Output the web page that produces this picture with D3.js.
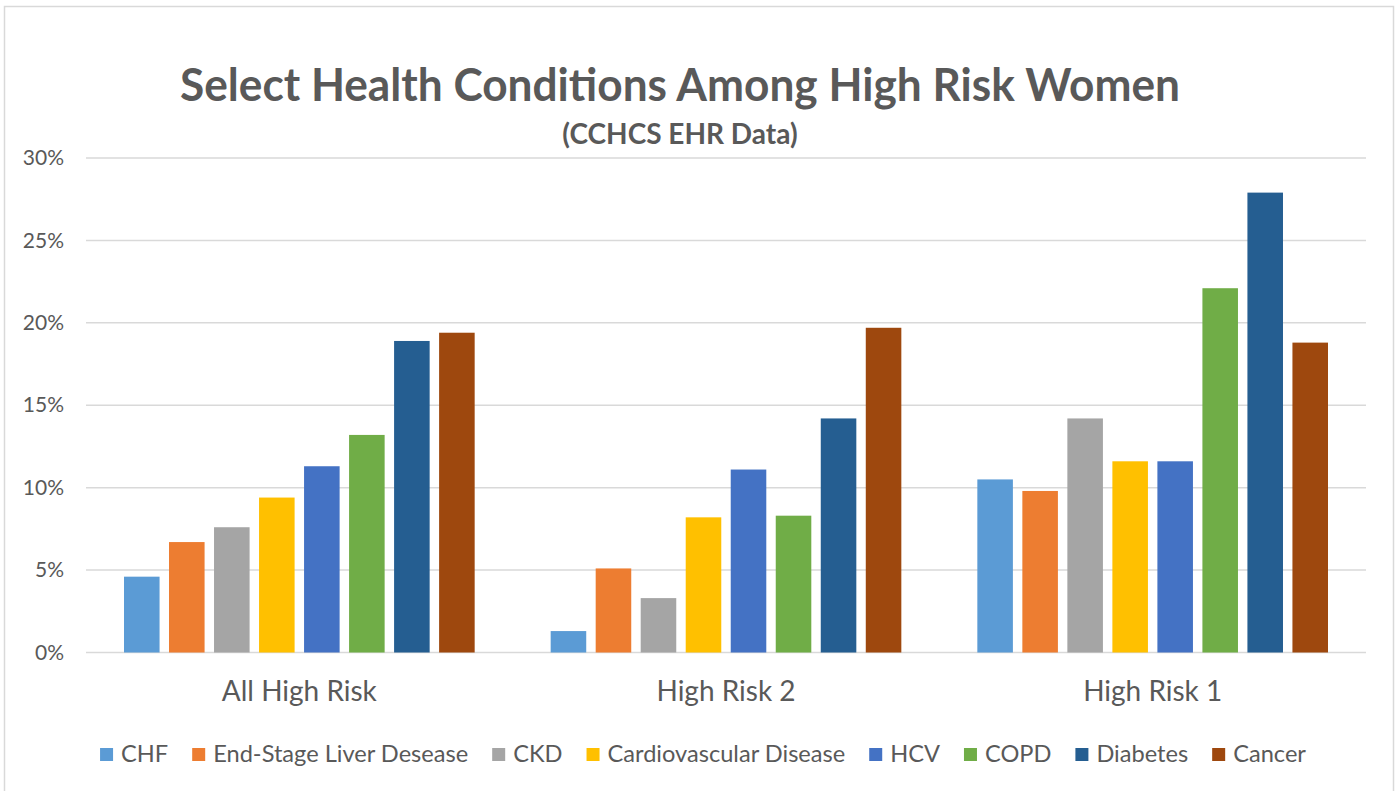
<!DOCTYPE html>
<html>
<head>
<meta charset="utf-8">
<script src="https://cdn.jsdelivr.net/npm/d3@7/dist/d3.min.js"></script>
<style>
  html, body { margin: 0; padding: 0; background: #fff; }
  svg { display: block; font-family: Lato, "Open Sans", sans-serif; }
</style>
</head>
<body>
<svg id="chart" width="1395" height="791"></svg>
<script>
const categories = ["All High Risk", "High Risk 2", "High Risk 1"];
const seriesNames = ["CHF", "End-Stage Liver Desease", "CKD", "Cardiovascular Disease", "HCV", "COPD", "Diabetes", "Cancer"];
const seriesColors = ["#5B9BD5", "#ED7D31", "#A5A5A5", "#FFC000", "#4472C4", "#70AD47", "#255E91", "#9E480E"];
// values in percent, one array per series, ordered by categories
const CHF = [4.6, 1.3, 10.5];
const ESLD = [6.7, 5.1, 9.8];
const CKD = [7.6, 3.3, 14.2];
const CVD = [9.4, 8.2, 11.6];
const HCV = [11.3, 11.1, 11.6];
const COPD = [13.2, 8.3, 22.1];
const Diabetes = [18.9, 14.2, 27.9];
const Cancer = [19.4, 19.7, 18.8];
const seriesValues = [CHF, ESLD, CKD, CVD, HCV, COPD, Diabetes, Cancer];
const yTicks = [0, 5, 10, 15, 20, 25, 30];

const svg = d3.select("#chart");
const textColor = "#595959";
const gridColor = "#D9D9D9";

// outer border
svg.append("rect").attr("x", 4.5).attr("y", 6.5).attr("width", 1389).attr("height", 800)
  .attr("fill", "none").attr("stroke", gridColor).attr("stroke-width", 1.5);

const plot = { left: 86, right: 1366, top: 158, bottom: 652.5 };

const y = d3.scaleLinear().domain([0, 30]).range([plot.bottom, plot.top]);
const x0 = d3.scaleBand().domain(categories).range([plot.left, plot.right]).padding(0);
const groupPad = 38;
const x1 = d3.scaleBand().domain(seriesNames).range([groupPad, x0.bandwidth() - groupPad]).paddingInner(0.21).paddingOuter(0);

// gridlines
svg.append("g").selectAll("line").data(yTicks).join("line")
  .attr("x1", plot.left).attr("x2", plot.right)
  .attr("y1", d => y(d)).attr("y2", d => y(d))
  .attr("stroke", gridColor).attr("stroke-width", 1.5);

// y axis labels
const yAxis = d3.axisLeft(y).tickValues(yTicks).tickFormat(d => d + "%").tickSize(0).tickPadding(0);
const yg = svg.append("g").attr("transform", `translate(${plot.left - 22},0)`).call(yAxis);
yg.select(".domain").remove();
yg.selectAll("text").attr("fill", textColor).style("font-size", "21px").style("font-family", "Lato, sans-serif");

// bars
const groups = svg.append("g").selectAll("g").data(categories).join("g")
  .attr("transform", d => `translate(${x0(d)},0)`);
groups.selectAll("rect")
  .data((cat, ci) => seriesNames.map((s, si) => ({ s, si, v: seriesValues[si][ci] })))
  .join("rect")
  .attr("x", d => x1(d.s))
  .attr("width", x1.bandwidth())
  .attr("y", d => y(d.v))
  .attr("height", d => y(0) - y(d.v))
  .attr("fill", d => seriesColors[d.si]);

// x axis labels
const xAxis = d3.axisBottom(x0).tickSize(0).tickPadding(0);
const xg = svg.append("g").attr("transform", `translate(0,${plot.bottom + 29})`).call(xAxis);
xg.select(".domain").remove();
xg.selectAll("text").attr("fill", textColor).style("font-size", "28px").style("font-family", "Lato, sans-serif");

// title
svg.append("text").attr("x", 680).attr("y", 101).attr("text-anchor", "middle")
  .attr("fill", textColor).style("font-size", "45px").style("font-weight", "bold")
  .attr("textLength", 1000).attr("lengthAdjust", "spacingAndGlyphs")
  .text("Select Health Conditions Among High Risk Women");
svg.append("text").attr("x", 680).attr("y", 144).attr("text-anchor", "middle")
  .attr("fill", textColor).style("font-size", "28px").style("font-weight", "bold")
  .text("(CCHCS EHR Data)");

// legend
const legend = svg.append("g");
const items = legend.selectAll("g").data(seriesNames).join("g");
items.append("rect").attr("width", 13).attr("height", 13).attr("y", -14)
  .attr("fill", (d, i) => seriesColors[i]);
items.append("text").attr("x", 21).attr("y", 0).attr("fill", textColor)
  .style("font-size", "23.6px").text(d => d);
let cx = 0;
const gap = 24;
items.each(function () {
  const w = 21 + d3.select(this).select("text").node().getComputedTextLength();
  d3.select(this).attr("transform", `translate(${cx},0)`);
  cx += w + gap;
});
const total = cx - gap;
legend.attr("transform", `translate(${703 - total / 2},762)`);
</script>
</body>
</html>
